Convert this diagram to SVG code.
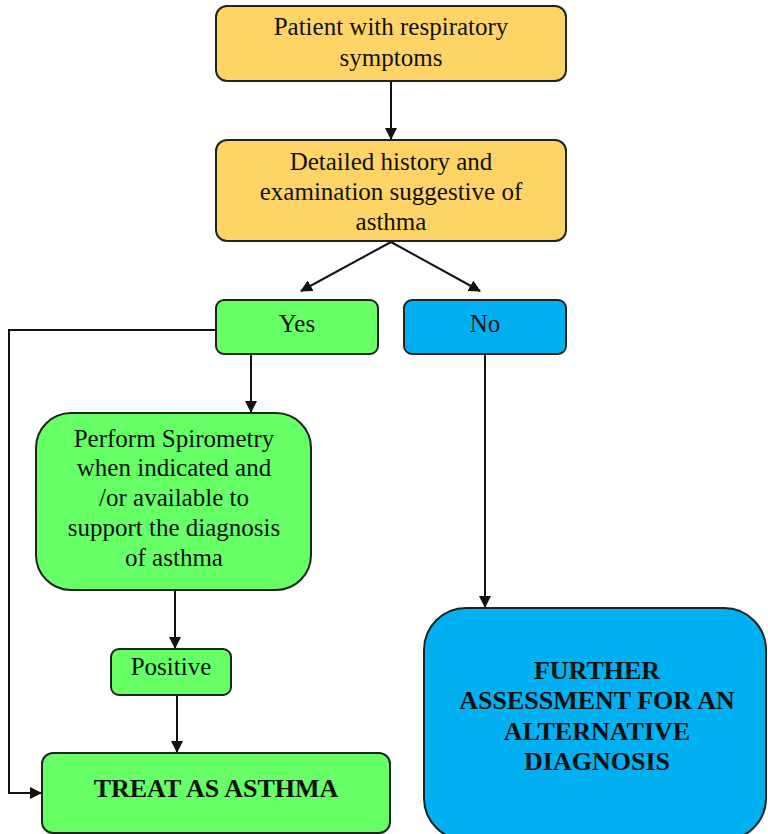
<svg xmlns="http://www.w3.org/2000/svg" width="768" height="834" viewBox="0 0 768 834">
<style>
.box{stroke:#222;stroke-width:2}
.y{fill:#FFD466}
.g{fill:#66FF66}
.b{fill:#00B0F0}
.t{font-family:"Liberation Serif",serif;font-size:25px;fill:#111;text-anchor:middle}
.tb{font-family:"Liberation Serif",serif;font-size:26px;font-weight:bold;fill:#111;text-anchor:middle}
.c{fill:none;stroke:#111;stroke-width:2}
</style>
<defs>
<marker id="ah" markerWidth="12" markerHeight="12" refX="11" refY="6" orient="auto" markerUnits="userSpaceOnUse">
<path d="M0,0 L12,6 L0,12 z" fill="#111"/>
</marker>
</defs>
<g id="connectors">
<path class="c" d="M391,81 V139" marker-end="url(#ah)"/>
<path class="c" d="M391,242 L301,291" marker-end="url(#ah)"/>
<path class="c" d="M391,242 L480,291" marker-end="url(#ah)"/>
<path class="c" d="M216,330 H9 V793 H41" marker-end="url(#ah)"/>
<path class="c" d="M251,354 V412" marker-end="url(#ah)"/>
<path class="c" d="M175,590 V648" marker-end="url(#ah)"/>
<path class="c" d="M177,695 V752" marker-end="url(#ah)"/>
<path class="c" d="M485,354 V607" marker-end="url(#ah)"/>
</g>
<g id="patient">
<rect class="box y" x="216" y="6" width="350" height="75" rx="11"/>
<text class="t" x="391" y="35">Patient with respiratory</text>
<text class="t" x="391" y="66">symptoms</text>
</g>
<g id="history">
<rect class="box y" x="216" y="140" width="350" height="101" rx="11"/>
<text class="t" x="391" y="170">Detailed history and</text>
<text class="t" x="391" y="200">examination suggestive of</text>
<text class="t" x="391" y="230">asthma</text>
</g>
<g id="yes">
<rect class="box g" x="216" y="300" width="162" height="54" rx="8"/>
<text class="t" x="297" y="332">Yes</text>
</g>
<g id="no">
<rect class="box b" x="404" y="300" width="162" height="54" rx="8"/>
<text class="t" x="485" y="332">No</text>
</g>
<g id="spirometry">
<rect class="box g" x="36" y="413" width="275" height="177" rx="35"/>
<text class="t" x="174" y="447">Perform Spirometry</text>
<text class="t" x="174" y="476">when indicated and</text>
<text class="t" x="174" y="506">/or available to</text>
<text class="t" x="174" y="536">support the diagnosis</text>
<text class="t" x="174" y="566">of asthma</text>
</g>
<g id="positive">
<rect class="box g" x="111" y="649" width="120" height="46" rx="8"/>
<text class="t" x="171" y="675">Positive</text>
</g>
<g id="treat">
<rect class="box g" x="42" y="753" width="348" height="80" rx="11"/>
<text class="tb" x="216" y="797">TREAT AS ASTHMA</text>
</g>
<g id="further">
<rect class="box b" x="424" y="608" width="342" height="232" rx="42"/>
<text class="tb" x="597" y="679">FURTHER</text>
<text class="tb" x="597" y="709">ASSESSMENT FOR AN</text>
<text class="tb" x="597" y="740">ALTERNATIVE</text>
<text class="tb" x="597" y="770">DIAGNOSIS</text>
</g>
</svg>
